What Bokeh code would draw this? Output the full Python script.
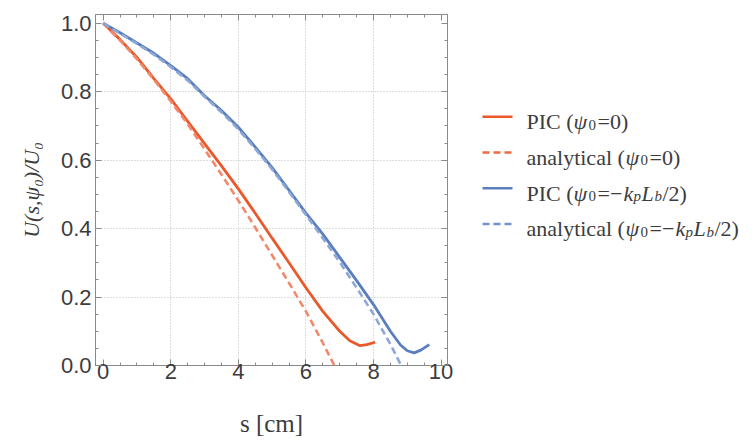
import numpy as np
from bokeh.plotting import figure
from bokeh.models import Range1d, LinearAxis, FixedTicker, PrintfTickFormatter, CustomJSTickFormatter
from bokeh.layouts import row
from bokeh.embed import file_html
from bokeh.resources import INLINE
from bokeh.core.properties import value

# ---------------- data ----------------
s_pic0 = [0, 0.5, 1, 1.5, 2, 2.5, 3, 3.5, 4, 4.5, 5, 5.5, 6, 6.5, 7, 7.3, 7.6, 7.8, 8.05]
u_pic0 = [1.0, 0.952, 0.90, 0.838, 0.779, 0.713, 0.648, 0.583, 0.516, 0.445, 0.372,
          0.30, 0.227, 0.158, 0.10, 0.072, 0.058, 0.061, 0.068]

s_ana0 = [0, 0.5, 1, 1.5, 2, 2.5, 3, 3.5, 4, 4.5, 5, 5.5, 6, 6.5, 6.84]
u_ana0 = [1.0, 0.95, 0.895, 0.835, 0.772, 0.705, 0.632, 0.558, 0.482, 0.403, 0.322,
          0.241, 0.158, 0.066, 0.0]

s_pic1 = [0, 0.5, 1, 1.5, 2, 2.5, 3, 3.5, 4, 4.5, 5, 5.5, 6, 6.5, 7, 7.5, 8, 8.5,
          8.8, 9.0, 9.2, 9.4, 9.65]
u_pic1 = [1.0, 0.972, 0.942, 0.912, 0.876, 0.838, 0.788, 0.745, 0.696, 0.638, 0.578,
          0.512, 0.445, 0.384, 0.316, 0.248, 0.178, 0.10, 0.06, 0.043, 0.037, 0.045, 0.061]

s_ana1 = [0, 0.5, 1, 1.5, 2, 2.5, 3, 3.5, 4, 4.5, 5, 5.5, 6, 6.5, 7, 7.5, 8, 8.5, 8.82]
u_ana1 = [1.0, 0.97, 0.94, 0.908, 0.872, 0.833, 0.785, 0.74, 0.69, 0.633, 0.573,
          0.507, 0.44, 0.372, 0.302, 0.227, 0.15, 0.062, 0.0]

x_major = [0, 2, 4, 6, 8, 10]
y_major = [0.0, 0.2, 0.4, 0.6, 0.8, 1.0]
x_grid = [2, 4, 6, 8]
y_grid = [0.2, 0.4, 0.6, 0.8]
x_minor = list(np.arange(-0.5, 10.51, 0.5))
y_minor = list(np.arange(0.0, 1.051, 0.05))

x_label = "s [cm]"
y_label = "U(s,\u03c8\u2080)/U\u2080"

# legend entries: pieces (text, style, size, dx, dy)
legend_entries = [
    [("PIC (", "normal", 22, 58, 0), ("\u03c8", "italic", 22, 105, 0),
     ("0", "normal", 15, 120, 4), ("=0)", "normal", 22, 129, 0)],
    [("analytical (", "normal", 22, 58, 0), ("\u03c8", "italic", 22, 157, 0),
     ("0", "normal", 15, 172, 4), ("=0)", "normal", 22, 181, 0)],
    [("PIC (", "normal", 22, 58, 0), ("\u03c8", "italic", 22, 105, 0),
     ("0", "normal", 15, 120, 4), ("=\u2212", "normal", 22, 129, 0),
     ("k", "italic", 22, 155, 0), ("p", "italic", 15, 165, 4),
     ("L", "italic", 22, 173, 0), ("b", "italic", 15, 186, 4),
     ("/2)", "normal", 22, 194, 0)],
    [("analytical (", "normal", 22, 58, 0), ("\u03c8", "italic", 22, 157, 0),
     ("0", "normal", 15, 172, 4), ("=\u2212", "normal", 22, 181, 0),
     ("k", "italic", 22, 207, 0), ("p", "italic", 15, 217, 4),
     ("L", "italic", 22, 225, 0), ("b", "italic", 15, 238, 4),
     ("/2)", "normal", 22, 246, 0)],
]

RED = "#E9592C"
RED_D = "#F08A6B"
BLUE = "#5A7EBE"
BLUE_D = "#8EA8D6"
series_styles = [
    (s_pic0, u_pic0, RED, "solid", 2.8, RED),
    (s_ana0, u_ana0, RED_D, "7 4", 2.6, "#EE6B43"),
    (s_pic1, u_pic1, BLUE, "solid", 2.8, BLUE),
    (s_ana1, u_ana1, BLUE_D, "7 4", 2.6, "#7393CC"),
]

FRAME = "#8a8a8a"
TXT = "#3c3c3c"

# ---------------- main plot ----------------
p = figure(width=468, height=441, x_range=Range1d(-0.228, 10.19),
           y_range=Range1d(0.0, 1.0254), output_backend="svg",
           toolbar_location=None, min_border_left=95, min_border_right=21,
           min_border_top=14, min_border_bottom=76)
p.background_fill_color = "white"
p.border_fill_color = "white"
p.outline_line_color = FRAME
p.outline_line_width = 1

xt = FixedTicker(ticks=x_major, minor_ticks=x_minor)
yt = FixedTicker(ticks=y_major, minor_ticks=y_minor)

for ax, tk in ((p.xaxis[0], xt), (p.yaxis[0], yt)):
    ax.ticker = tk
    ax.axis_line_color = FRAME
    ax.major_tick_line_color = FRAME
    ax.minor_tick_line_color = FRAME
    ax.major_tick_in = 6
    ax.major_tick_out = 0
    ax.minor_tick_in = 3
    ax.minor_tick_out = 0
    ax.major_label_text_font = "Liberation Sans"
    ax.major_label_text_font_size = "22px"
    ax.major_label_text_color = TXT
    ax.axis_label_text_font = "Liberation Serif"
    ax.axis_label_text_color = TXT

p.yaxis[0].formatter = PrintfTickFormatter(format="%.1f")
p.xaxis[0].axis_label = x_label
p.xaxis[0].axis_label_text_font_style = "normal"
p.xaxis[0].axis_label_text_font_size = "25px"
p.xaxis[0].major_label_standoff = -2
p.xaxis[0].axis_label_standoff = 28
p.yaxis[0].axis_label = y_label
p.yaxis[0].axis_label_text_font_style = "italic"
p.yaxis[0].axis_label_text_font_size = "22px"
p.yaxis[0].major_label_standoff = 4
p.yaxis[0].axis_label_standoff = 14

blank = CustomJSTickFormatter(code="return ''")
for side, tk in (("above", xt), ("right", yt)):
    ax = LinearAxis(ticker=tk, formatter=blank, major_label_text_font_size="1px",
                    major_label_standoff=0, axis_label_standoff=0,
                    axis_line_color=FRAME, major_tick_line_color=FRAME,
                    minor_tick_line_color=FRAME, major_tick_in=6, major_tick_out=0,
                    minor_tick_in=3, minor_tick_out=0)
    p.add_layout(ax, side)

p.xgrid.ticker = FixedTicker(ticks=x_grid)
p.ygrid.ticker = FixedTicker(ticks=y_grid)
p.grid.grid_line_color = "#bdbdbd"
p.grid.grid_line_dash = "1 2"
p.grid.grid_line_width = 1

for xs, ys, col, dash, lw, _ in series_styles:
    p.line(xs, ys, line_color=col, line_dash=dash, line_width=lw)

# ---------------- legend panel ----------------
LW = 286
lg = figure(width=LW, height=441, x_range=Range1d(0, LW), y_range=Range1d(441, 0),
            output_backend="svg", toolbar_location=None,
            min_border_left=0, min_border_right=0, min_border_top=0, min_border_bottom=0)
lg.axis.visible = False
lg.grid.visible = False
lg.outline_line_color = None
lg.background_fill_color = "white"
lg.border_fill_color = "white"

row_y0 = 128.5
row_step = 44.9
for i, (entry, (_, _, col, dash, lw, lc)) in enumerate(zip(legend_entries, series_styles)):
    ly = row_y0 + i * row_step
    lg.line([14, 44], [ly, ly], line_color=lc, line_dash=dash, line_width=2.6)
    for txt, style, size, dx, dy in entry:
        lg.text(x=[dx], y=[ly + 6 + dy], text=[txt], text_font=value("Liberation Serif"),
                text_font_size=f"{size}px", text_font_style=style,
                text_color=TXT, text_baseline="alphabetic", text_align="left")

layout = row(p, lg)
open("out.html", "w").write(file_html(layout, INLINE))
